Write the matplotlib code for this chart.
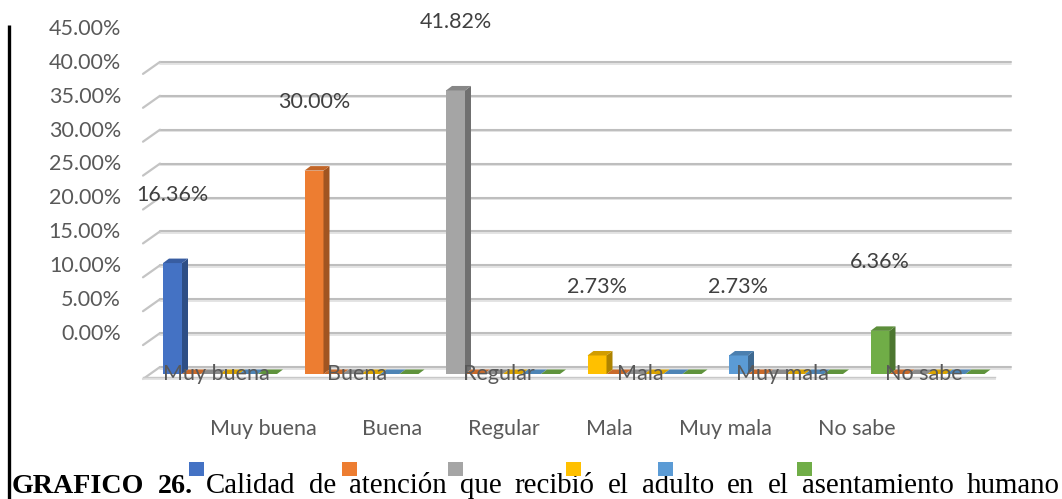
import matplotlib
matplotlib.use('Agg')
import matplotlib.pyplot as plt
from matplotlib.patches import Polygon, Rectangle
import matplotlib.colors as mcolors
import numpy as np

# ---------------- data ----------------
categories = ['Muy buena', 'Buena', 'Regular', 'Mala', 'Muy mala', 'No sabe']
values = [16.36, 30.00, 41.82, 2.73, 2.73, 6.36]
value_labels = ['16.36%', '30.00%', '41.82%', '2.73%', '2.73%', '6.36%']
colors = ['#4472C4', '#ED7D31', '#A5A5A5', '#FFC000', '#5B9BD5', '#70AD47']
empty_series_values = [0, 0, 0, 0, 0]          # the other (empty) series in each group
empty_series_colors = ['#ED7D31', '#A5A5A5', '#FFC000', '#5B9BD5', '#70AD47']
ytick_values = [0, 5, 10, 15, 20, 25, 30, 35, 40, 45]
ytick_labels = ['0.00%', '5.00%', '10.00%', '15.00%', '20.00%', '25.00%',
                '30.00%', '35.00%', '40.00%', '45.00%']
caption_bold = 'GRAFICO 26.'
caption_text = 'Calidad de atención que recibió el adulto en el asentamiento humano'

# ---------------- layout ----------------
W, H = 1062, 499
fig = plt.figure(figsize=(W / 100, H / 100), dpi=100)
ax = fig.add_axes([0, 0, 1, 1])
ax.set_axis_off()

GROUP_PX = 141.5   # pixels per category
PCT_PX = 6.78      # pixels per percent
X0_PX = 163        # left edge of first bar
BASE_PX = 374      # baseline of bars (pixels from top)
ax.set_xlim(-X0_PX / GROUP_PX, (W - X0_PX) / GROUP_PX)
ax.set_ylim((BASE_PX - H) / PCT_PX, BASE_PX / PCT_PX)


def px(d):
    return d / GROUP_PX


def py(d):
    return d / PCT_PX


def xpx(p):
    return (p - X0_PX) / GROUP_PX


def ypx(p):
    return (BASE_PX - p) / PCT_PX


def shade(c, f):
    r, g, b = mcolors.to_rgb(c)
    return (r * f, g * f, b * f)


SANS = ['Lato', 'DejaVu Sans']
TXT = '#595959'
FS = 15.5

# ---------------- walls / gridlines ----------------
back_dx, back_dy = 8, 7      # back wall offset from bar plane (px)
front_dy = -5                # front floor edge offset (px)
left_front_px, left_back_px, right_back_px, right_front_px = 143, 160, 1011, 995
for v in ytick_values:
    yb = v + py(back_dy)
    yf = v + py(front_dy)
    ax.plot([xpx(left_back_px), xpx(right_back_px)], [yb - py(1.6)] * 2,
            color='#E2E2E2', lw=1.3, zorder=1, solid_capstyle='round')
    ax.plot([xpx(left_back_px), xpx(right_back_px)], [yb] * 2,
            color='#BEBEBE', lw=1.5, zorder=1, solid_capstyle='round')
    ax.plot([xpx(left_front_px), xpx(left_back_px)], [yf, yb],
            color='#C4C4C4', lw=1.6, zorder=1, solid_capstyle='round')
# floor front edge
ax.plot([xpx(left_front_px), xpx(right_front_px)], [py(front_dy)] * 2,
        color='#E0E0E0', lw=1.3, zorder=1)
ax.plot([xpx(left_front_px), xpx(right_front_px)], [py(front_dy) + py(1.6)] * 2,
        color='#C8C8C8', lw=1.0, zorder=1)

# ---------------- bars ----------------
bw = px(19)
sdx, sdy = px(6), py(4.5)
for i, (v, c) in enumerate(zip(values, colors)):
    ax.bar(i, v, width=bw, align='edge', color=c, linewidth=0, zorder=3)
    ax.add_patch(Polygon([(i + bw, 0), (i + bw, v), (i + bw + sdx, v + sdy),
                          (i + bw + sdx, sdy)], closed=True,
                         facecolor=shade(c, 0.68), edgecolor='none', zorder=3))
    ax.add_patch(Polygon([(i, v), (i + bw, v), (i + bw + sdx, v + sdy),
                          (i + sdx, v + sdy)], closed=True,
                         facecolor=shade(c, 0.82), edgecolor='none', zorder=3))
    # empty series in the same group -> only a thin top face visible
    for k, (ev, ec) in enumerate(zip(empty_series_values, empty_series_colors), start=1):
        x0 = i + k * bw
        ax.bar(x0, ev, width=bw, align='edge', color=ec, linewidth=0, zorder=2)
        ax.add_patch(Polygon([(x0, ev), (x0 + bw, ev), (x0 + bw + sdx, ev + sdy),
                              (x0 + sdx, ev + sdy)], closed=True,
                             facecolor=shade(ec, 0.85), edgecolor='none', zorder=2))
    # data label (displaced upward as in the original)
    ax.text(i + bw / 2, v + 10.1, value_labels[i], ha='center', va='center',
            fontsize=FS, color='#404040', family=SANS, zorder=5)
    # category label on floor
    ax.text(i + px(53), ypx(380), categories[i], ha='center', va='baseline',
            fontsize=FS, color=TXT, family=SANS, zorder=5)

# ---------------- y tick labels ----------------
for v, lab in zip(ytick_values, ytick_labels):
    ax.text(xpx(121), v + 5.9, lab, ha='right', va='center', fontsize=FS,
            color=TXT, family=SANS, zorder=5)

# ---------------- left black rule ----------------
ax.plot([xpx(8.5)] * 2, [ypx(25), ypx(499)], color='black', lw=2.4,
        solid_capstyle='butt', zorder=6)

fig.canvas.draw()
renderer = fig.canvas.get_renderer()

# ---------------- legend row (texts and displaced markers) ----------------
leg_texts = [ax.text(0, ypx(435), c, ha='left', va='baseline', fontsize=FS,
                     color=TXT, family=SANS) for c in categories]
widths = [t.get_window_extent(renderer).width for t in leg_texts]
gap = 46
total = sum(widths) + gap * (len(widths) - 1)
x = 552.5 - total / 2
for t, w, c in zip(leg_texts, widths, colors):
    t.set_x(xpx(x))
    ax.add_patch(Rectangle((xpx(x - 20.5), ypx(476)), px(15), py(14),
                           facecolor=c, edgecolor='none', zorder=7))
    x += w + gap

# ---------------- caption (justified) ----------------
words = [(w, 'bold', 20.2) for w in caption_bold.split()] + \
        [(w, 'normal', 20.8) for w in caption_text.split()]
cap_texts = [ax.text(0, ypx(493), w, ha='left', va='baseline', fontsize=fs,
                     fontweight=wt, family=['Liberation Serif', 'DejaVu Serif'],
                     color='black', zorder=6) for w, wt, fs in words]
cw = [t.get_window_extent(renderer).width for t in cap_texts]
start, end = 12, 1060
g = (end - start - sum(cw)) / (len(cw) - 1)
x = start
for t, w in zip(cap_texts, cw):
    t.set_x(xpx(x))
    x += w + g

fig.savefig('out.png', dpi=100)
